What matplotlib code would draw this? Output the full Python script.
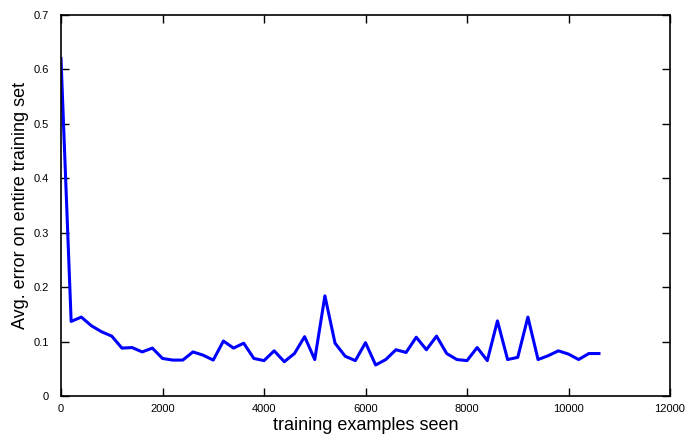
import numpy as np
import matplotlib.pyplot as plt

plt.rcParams['font.family'] = ['Liberation Sans', 'DejaVu Sans']

# 训练样本数与对应的平均误差
examples_seen = np.arange(0, 10601, 200)
avg_error = [0.62, 0.137, 0.145, 0.129, 0.118, 0.110, 0.088, 0.089, 0.081, 0.088,
             0.069, 0.066, 0.066, 0.081, 0.075, 0.066, 0.101, 0.088, 0.097, 0.069,
             0.065, 0.083, 0.063, 0.078, 0.109, 0.067, 0.184, 0.097, 0.073, 0.065,
             0.098, 0.057, 0.067, 0.085, 0.080, 0.108, 0.085, 0.110, 0.078, 0.067,
             0.065, 0.089, 0.065, 0.138, 0.067, 0.071, 0.145, 0.067, 0.074, 0.083,
             0.077, 0.067, 0.078, 0.078]
x_ticks = [0, 2000, 4000, 6000, 8000, 10000, 12000]
y_ticks = [0, 0.1, 0.2, 0.3, 0.4, 0.5, 0.6, 0.7]

fig = plt.figure(figsize=(6.89, 4.38), dpi=100)
ax = fig.add_axes([61/689, 1-396/438, 609/689, 381/438])
ax.plot(examples_seen, avg_error, color='#0000ff', linewidth=2.2)

ax.set_xlim(0, 12000)
ax.set_ylim(0, 0.7)
ax.set_xticks(x_ticks)
ax.set_yticks(y_ticks)
ax.set_xticklabels([str(t) for t in x_ticks])
ax.set_yticklabels(['0', '0.1', '0.2', '0.3', '0.4', '0.5', '0.6', '0.7'])
ax.tick_params(direction='in', length=6, width=1, top=True, right=True,
               labelsize=8, colors='black', pad=6)
ax.tick_params(axis='y', pad=9)
for s in ax.spines.values():
    s.set_linewidth(1.2)

ax.set_xlabel('training examples seen', fontsize=13, labelpad=2)
ax.set_ylabel('Avg. error on entire training set', fontsize=13, labelpad=3)

fig.savefig('out.png', dpi=100)
